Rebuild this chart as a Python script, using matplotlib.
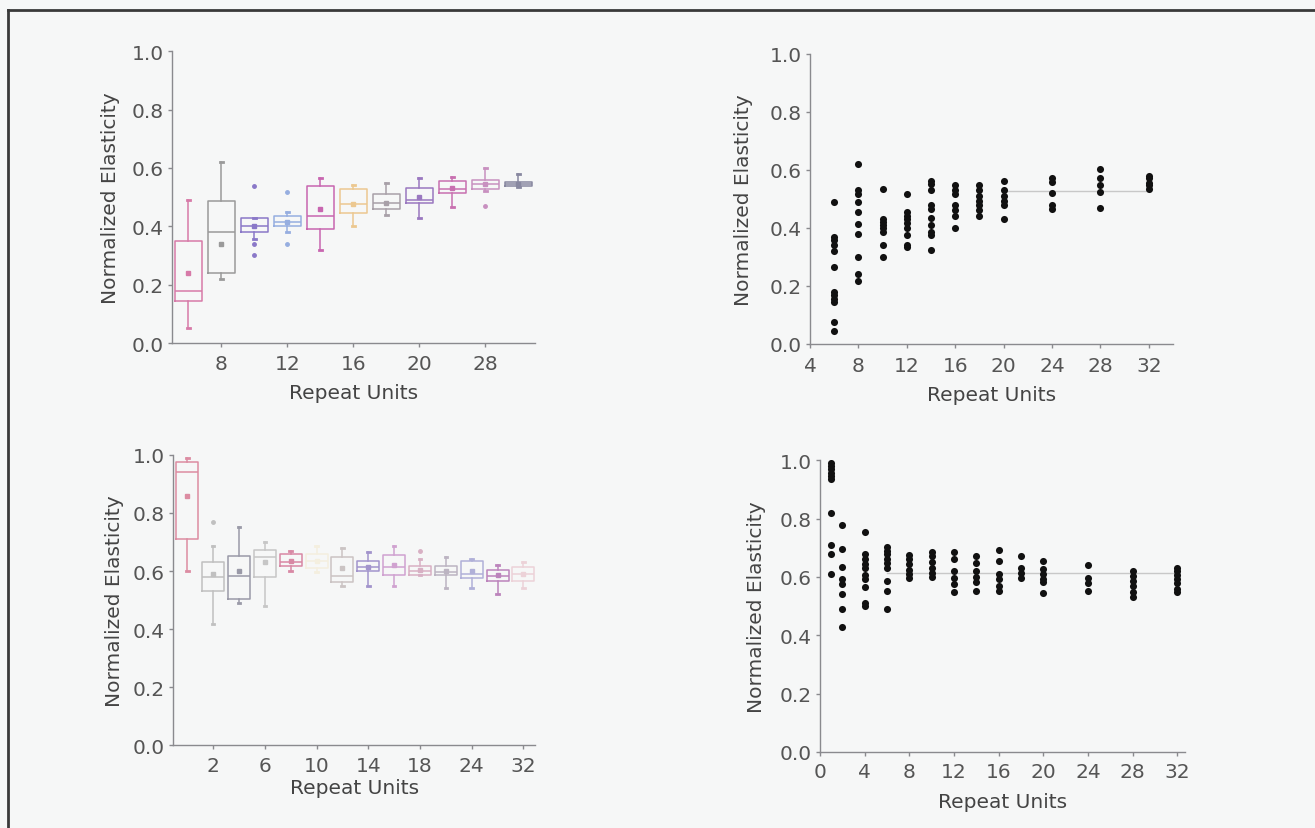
import matplotlib
matplotlib.use("Agg")
import matplotlib.pyplot as plt
from matplotlib.lines import Line2D

plt.rcParams["font.family"] = ["DejaVu Sans"]

BG = "#f6f7f7"
TEXT = "#555555"
SPINE = "#8a8a8e"
FS = 14.5

# ---- top-left: box plot, longer chains ----
tl_units = [6, 8, 10, 12, 14, 16, 18, 20, 24, 28, 32]
tl_q1 = [0.145, 0.24, 0.38, 0.40, 0.39, 0.447, 0.458, 0.48, 0.515, 0.527, 0.538]
tl_med = [0.18, 0.38, 0.40, 0.415, 0.435, 0.475, 0.48, 0.49, 0.527, 0.544, 0.545]
tl_q3 = [0.35, 0.487, 0.43, 0.435, 0.538, 0.527, 0.51, 0.53, 0.555, 0.56, 0.552]
tl_lo = [0.05, 0.22, 0.355, 0.38, 0.32, 0.40, 0.44, 0.43, 0.465, 0.52, 0.535]
tl_hi = [0.49, 0.62, 0.43, 0.45, 0.567, 0.54, 0.55, 0.565, 0.57, 0.60, 0.58]
tl_mean = [0.24, 0.34, 0.40, 0.415, 0.46, 0.475, 0.48, 0.50, 0.53, 0.545, 0.545]
tl_fliers = [[], [], [0.538, 0.34, 0.30], [0.517, 0.34], [], [], [], [], [], [0.47], []]
tl_colors = ["#d77aa8", "#9a9a9a", "#8a78c8", "#96aee0", "#c866b0", "#ecc890",
             "#a8a0a8", "#9a78c0", "#c870b0", "#c890c0", "#8888a0"]
tl_ticklabels = ["", "8", "", "12", "", "16", "", "20", "", "28", ""]

# ---- top-right: scatter, longer chains ----
tr_points = {
    6: [0.49, 0.37, 0.357, 0.34, 0.32, 0.265, 0.178, 0.167, 0.155, 0.144, 0.075, 0.046],
    8: [0.62, 0.53, 0.517, 0.49, 0.455, 0.414, 0.38, 0.30, 0.24, 0.218],
    10: [0.535, 0.43, 0.42, 0.41, 0.40, 0.385, 0.34, 0.30],
    12: [0.515, 0.456, 0.44, 0.43, 0.417, 0.40, 0.375, 0.34, 0.333],
    14: [0.563, 0.55, 0.53, 0.48, 0.465, 0.433, 0.408, 0.387, 0.375, 0.325],
    16: [0.546, 0.53, 0.517, 0.477, 0.46, 0.44, 0.40],
    18: [0.548, 0.532, 0.51, 0.494, 0.477, 0.463, 0.442],
    20: [0.563, 0.53, 0.51, 0.494, 0.477, 0.43],
    24: [0.57, 0.557, 0.52, 0.477, 0.466],
    28: [0.603, 0.57, 0.546, 0.523, 0.468],
    32: [0.58, 0.57, 0.556, 0.546, 0.535],
}
tr_plateau_x = [20, 32]
tr_plateau_y = [0.528, 0.528]

# ---- bottom-left: box plot, short chains ----
bl_units = [1, 2, 4, 6, 8, 10, 12, 14, 16, 18, 20, 24, 28, 32]
bl_q1 = [0.71, 0.532, 0.503, 0.58, 0.618, 0.61, 0.563, 0.60, 0.586, 0.586, 0.586, 0.575, 0.567, 0.567]
bl_med = [0.94, 0.578, 0.584, 0.647, 0.63, 0.635, 0.584, 0.613, 0.613, 0.60, 0.595, 0.59, 0.584, 0.59]
bl_q3 = [0.977, 0.63, 0.653, 0.672, 0.659, 0.66, 0.65, 0.636, 0.655, 0.618, 0.618, 0.636, 0.605, 0.613]
bl_lo = [0.60, 0.417, 0.49, 0.48, 0.60, 0.598, 0.55, 0.55, 0.55, 0.585, 0.54, 0.54, 0.52, 0.54]
bl_hi = [0.99, 0.687, 0.75, 0.70, 0.67, 0.687, 0.68, 0.665, 0.687, 0.64, 0.65, 0.64, 0.62, 0.63]
bl_mean = [0.86, 0.59, 0.60, 0.63, 0.635, 0.635, 0.61, 0.615, 0.62, 0.605, 0.60, 0.60, 0.585, 0.59]
bl_fliers = [[], [0.77], [], [], [], [], [], [], [], [0.67], [], [], [], []]
bl_colors = ["#dc8ca2", "#c0c0c0", "#9a9aa8", "#c6c6c6", "#d888a4", "#f4efdf", "#cbc4c4",
             "#a294cc", "#d0a2d0", "#d8b0c4", "#bcb4c2", "#b0b0d8", "#bc84bc", "#ecd2d8"]
bl_ticklabels = ["", "2", "", "6", "", "10", "", "14", "", "18", "", "24", "", "32"]

# ---- bottom-right: scatter, short chains ----
br_points = {
    1: [0.99, 0.98, 0.97, 0.957, 0.945, 0.934, 0.82, 0.71, 0.68, 0.61],
    2: [0.777, 0.697, 0.634, 0.592, 0.575, 0.541, 0.49, 0.427],
    4: [0.754, 0.678, 0.663, 0.643, 0.629, 0.606, 0.592, 0.564, 0.51, 0.499],
    6: [0.704, 0.689, 0.678, 0.66, 0.646, 0.629, 0.587, 0.552, 0.49],
    8: [0.674, 0.66, 0.643, 0.624, 0.609, 0.595],
    10: [0.687, 0.67, 0.651, 0.632, 0.615, 0.598],
    12: [0.686, 0.66, 0.62, 0.595, 0.575, 0.547],
    14: [0.67, 0.647, 0.62, 0.601, 0.581, 0.552],
    16: [0.691, 0.655, 0.609, 0.592, 0.57, 0.552],
    18: [0.672, 0.632, 0.613, 0.595],
    20: [0.655, 0.626, 0.609, 0.592, 0.581, 0.544],
    24: [0.64, 0.595, 0.579, 0.552],
    28: [0.62, 0.604, 0.587, 0.57, 0.549, 0.53],
    32: [0.632, 0.62, 0.606, 0.592, 0.579, 0.56, 0.547],
}
br_plateau_x = [6, 32]
br_plateau_y = [0.615, 0.615]

YLABEL = "Normalized Elasticity"
XLABEL = "Repeat Units"


def style_axes(ax):
    ax.set_facecolor(BG)
    for side in ("top", "right"):
        ax.spines[side].set_visible(False)
    for side in ("left", "bottom"):
        ax.spines[side].set_color(SPINE)
        ax.spines[side].set_linewidth(1.0)
    ax.tick_params(colors=SPINE, labelcolor=TEXT, labelsize=FS, length=3, width=1.0, pad=3)
    ax.set_ylim(0, 1.0)
    ax.set_yticks([0.0, 0.2, 0.4, 0.6, 0.8, 1.0])
    ax.set_yticklabels(["0.0", "0.2", "0.4", "0.6", "0.8", "1.0"])


def draw_boxes(ax, q1, med, q3, lo, hi, mean, fliers, colors, width):
    stats = []
    for i in range(len(med)):
        stats.append({"q1": q1[i], "med": med[i], "q3": q3[i], "whislo": lo[i],
                      "whishi": hi[i], "mean": mean[i], "fliers": fliers[i]})
    for i, st in enumerate(stats):
        c = colors[i]
        ax.bxp([st], positions=[i], widths=width, showmeans=True, capwidths=width * 0.12,
               boxprops=dict(color=c, linewidth=1.1),
               medianprops=dict(color=c, linewidth=1.1),
               whiskerprops=dict(color=c, linewidth=1.1),
               capprops=dict(color=c, linewidth=2.0),
               meanprops=dict(marker="s", markersize=2.5, markerfacecolor=c, markeredgecolor=c),
               flierprops=dict(marker="o", markersize=2.5, markerfacecolor=c, markeredgecolor=c))


def draw_scatter(ax, points):
    for x, ys in points.items():
        ax.scatter([x] * len(ys), ys, s=26, color="#111111", zorder=3, linewidths=0)


def label_axes(ax, xpad, ypad):
    ax.set_xlabel(XLABEL, fontsize=FS, color="#444444", labelpad=xpad)
    ax.set_ylabel(YLABEL, fontsize=FS, color="#444444", labelpad=ypad)


fig = plt.figure(figsize=(13.15, 8.29), dpi=100)
fig.patch.set_facecolor(BG)

# frame of the scanned figure
fig.add_artist(Line2D([8 / 1315, 1.0], [1 - 11 / 829, 1 - 11 / 829], color="#3a3a3a", lw=2.0))
fig.add_artist(Line2D([8 / 1315, 8 / 1315], [0.0, 1 - 11 / 829], color="#3a3a3a", lw=2.0))

# top-left
ax1 = fig.add_axes([0.1308, 0.585, 0.276, 0.352])
style_axes(ax1)
draw_boxes(ax1, tl_q1, tl_med, tl_q3, tl_lo, tl_hi, tl_mean, tl_fliers, tl_colors, 0.8)
ax1.set_xlim(-0.5, 10.5)
ticks = [i for i, lab in enumerate(tl_ticklabels) if lab]
ax1.set_xticks(ticks)
ax1.set_xticklabels([tl_ticklabels[i] for i in ticks])
ax1.tick_params(axis="x", pad=5)
label_axes(ax1, 7, 8)

# top-right
ax2 = fig.add_axes([0.616, 0.584, 0.276, 0.35])
style_axes(ax2)
ax2.plot(tr_plateau_x, tr_plateau_y, color="#c8c8c8", lw=1.0, zorder=2)
draw_scatter(ax2, tr_points)
ax2.set_xlim(4, 34)
ax2.set_xticks([4, 8, 12, 16, 20, 24, 28, 32])
ax2.tick_params(axis="x", pad=6)
label_axes(ax2, 7, 12)

# bottom-left
ax3 = fig.add_axes([0.1316, 0.100, 0.2753, 0.350])
style_axes(ax3)
draw_boxes(ax3, bl_q1, bl_med, bl_q3, bl_lo, bl_hi, bl_mean, bl_fliers, bl_colors, 0.85)
ax3.set_xlim(-0.55, 13.45)
ticks = [i for i, lab in enumerate(bl_ticklabels) if lab]
ax3.set_xticks(ticks)
ax3.set_xticklabels([bl_ticklabels[i] for i in ticks])
ax3.tick_params(axis="x", pad=5)
label_axes(ax3, 2, 6)

# bottom-right
ax4 = fig.add_axes([0.6236, 0.0917, 0.2776, 0.352])
style_axes(ax4)
ax4.plot(br_plateau_x, br_plateau_y, color="#c8c8c8", lw=1.0, zorder=2)
draw_scatter(ax4, br_points)
ax4.set_xlim(0, 32.7)
ax4.set_xticks([0, 4, 8, 12, 16, 20, 24, 28, 32])
ax4.tick_params(axis="x", pad=4)
label_axes(ax4, 8, 10)

fig.savefig("out.png", dpi=100, facecolor=BG)
